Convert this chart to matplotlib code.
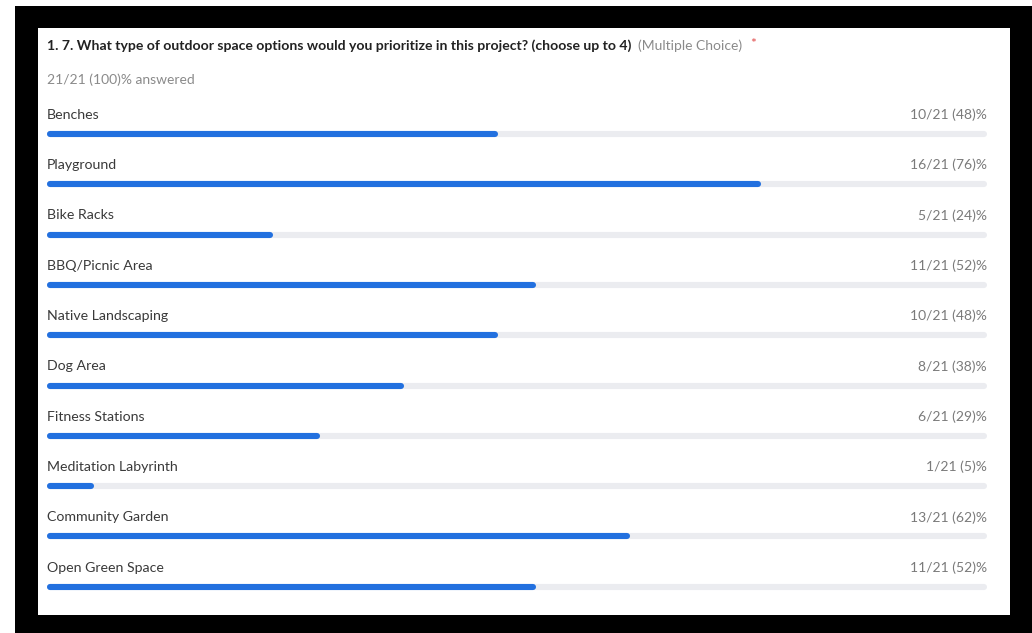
import matplotlib.pyplot as plt
from matplotlib.patches import Rectangle

plt.rcParams['font.family'] = ['Lato', 'DejaVu Sans']

options = ['Benches', 'Playground', 'Bike Racks', 'BBQ/Picnic Area', 'Native Landscaping',
           'Dog Area', 'Fitness Stations', 'Meditation Labyrinth', 'Community Garden',
           'Open Green Space']
counts = [10, 16, 5, 11, 10, 8, 6, 1, 13, 11]
percents = [48, 76, 24, 52, 48, 38, 29, 5, 62, 52]
total = 21

title_bold = '1. 7. What type of outdoor space options would you prioritize in this project? (choose up to 4)'
title_type = '(Multiple Choice)'
answered = '21/21 (100)% answered'

W, H = 1032, 633
fig = plt.figure(figsize=(W / 100, H / 100), dpi=100)
fig.patch.set_facecolor('white')

# black frame and white card, in pixel units
fig.patches.append(Rectangle((15 / W, 0), 1 - 15 / W, 1 - 6 / H, transform=fig.transFigure,
                             facecolor='black', edgecolor='none', zorder=0))
fig.patches.append(Rectangle((38 / W, 1 - 615 / H), (1010 - 38) / W, (615 - 28) / H,
                             transform=fig.transFigure, facecolor='white', edgecolor='none', zorder=1))

# header texts
t1 = fig.text(47 / W, 1 - 45.5 / H, title_bold, fontsize=10.05, fontweight='bold', color='#222222',
              va='center', ha='left')
fig.canvas.draw()
r = fig.canvas.get_renderer()
x_end = t1.get_window_extent(r).x1
t2 = fig.text((x_end + 7) / W, 1 - 45.5 / H, title_type, fontsize=10, color='#8a8a8a',
              va='center', ha='left')
x_end = t2.get_window_extent(r).x1
fig.text((x_end + 8) / W, 1 - 44 / H, '*', fontsize=10, color='#e04b4b', va='center', ha='left')
fig.text(47 / W, 1 - 79.5 / H, answered, fontsize=10, color='#8a8a8a', va='center', ha='left')

# chart axes: rows every ~50.3 px, bar of first row at y=134 px
row_h = 50.3
top = 134 - row_h / 2
ax = fig.add_axes([47 / W, 1 - (top + row_h * len(options)) / H, 940 / W, row_h * len(options) / H])
ax.set_zorder(2)
ax.patch.set_alpha(0)
ax.set_xlim(0, 100)
ax.set_ylim(len(options) - 0.5, -0.5)
ax.axis('off')
cap = 3 / 940 * 100  # round caps stick out ~3 px

for i, (name, c, p) in enumerate(zip(options, counts, percents)):
    ax.plot([cap, 100 - cap], [i, i], color='#ebecf0', lw=4.4, solid_capstyle='round')
    ax.plot([cap, p - cap], [i, i], color='#2270df', lw=4.4, solid_capstyle='round')
    ax.text(0, i - 0.38, name, fontsize=10.2, color='#3a3a3a', va='center', ha='left')
    ax.text(100, i - 0.38, f'{c}/{total} ({p})%', fontsize=10, color='#7a7a7a',
            va='center', ha='right')

fig.savefig('out.png', dpi=100)
